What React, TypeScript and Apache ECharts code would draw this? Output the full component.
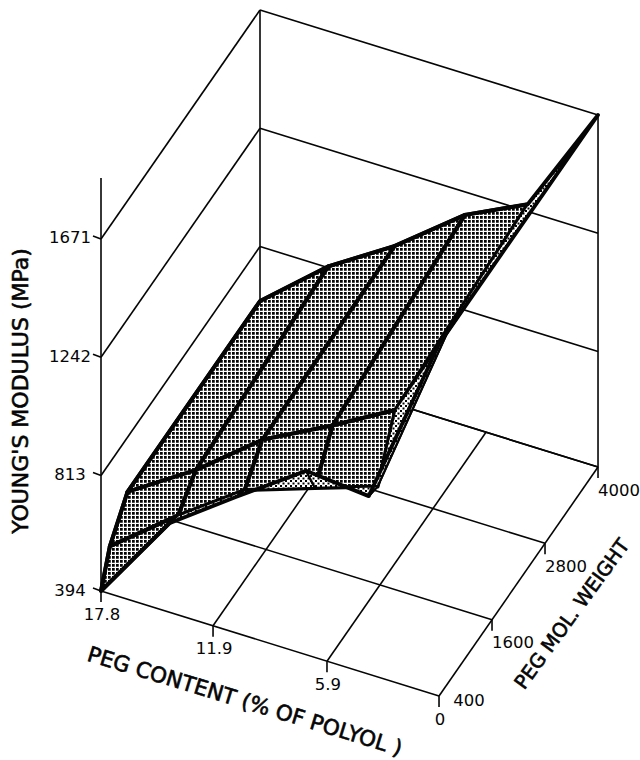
import React, { useEffect, useRef } from "react";
import * as echarts from "echarts";

// PEG content samples (% of polyol) and PEG molecular weights of the surface mesh
const contentSamples = [17.8, 14.2, 10.7, 7.0, 3.7, 0];
const weightSamples = [400, 600, 1000, 4000];
// Young's modulus (MPa): one row per molecular weight, one column per content sample
const modulus400 = [394, 717, 887, 1061, 1040, 1671];
const modulus600 = [510, 699, 866, 953, 1029, 1671];
const modulus1000 = [615, 771, 956, 1087, 1214, 1671];
const modulus4000 = [615, 818, 967, 1159, 1268, 1671];
const modulusRows = [modulus400, modulus600, modulus1000, modulus4000];

// Tick labels
const contentTicks = [17.8, 11.9, 5.9, 0];
const weightTicks = [400, 1600, 2800, 4000];
const modulusTicks = [394, 813, 1242, 1671];

// Faces seen from below (dotted in the figure): [content step, weight step]
const undersideFaces = [
  [1, 0], [2, 0], [3, 0], [4, 0], [4, 1], [4, 2],
];

const INK = "#050505";
const FONT = '"DejaVu Sans", sans-serif';

// Parallel projection of (content, weight, modulus) onto the page
function project(c: number, w: number, e: number): [number, number] {
  const u = 17.8 - c;
  const v = (w - 400) / 3600;
  return [
    101 + u * 18.99 + v * 159,
    591 + u * 5.9 - v * 229 - (e - 394) * 0.27565,
  ];
}

function makeTile(size: number, draw: (g: CanvasRenderingContext2D) => void) {
  const cv = document.createElement("canvas");
  cv.width = size;
  cv.height = size;
  const g = cv.getContext("2d")!;
  g.fillStyle = "#ffffff";
  g.fillRect(0, 0, size, size);
  g.fillStyle = INK;
  draw(g);
  return cv;
}

export default function App() {
  const ref = useRef<HTMLDivElement>(null);

  useEffect(() => {
    document.body.style.margin = "0";
    document.body.style.background = "#ffffff";
    const chart = echarts.init(ref.current!, null, { renderer: "svg" });

    const hatch = {
      image: makeTile(16, (g) => g.fillRect(0, 0, 11, 11)),
      imageWidth: 4,
      imageHeight: 4,
      repeat: "repeat",
    };
    const dots = {
      image: makeTile(10, (g) => {
        g.fillRect(0, 0, 4, 4);
        g.fillRect(5, 5, 4, 4);
      }),
      imageWidth: 5,
      imageHeight: 5,
      repeat: "repeat",
    };

    // Frame segments: back wall, left wall, floor grid, verticals, ticks
    const frame: number[][] = [];
    const seg = (a: [number, number], b: [number, number]) =>
      frame.push([a[0], a[1], b[0], b[1]]);
    const cMax = contentTicks[0];
    const cMin = contentTicks[contentTicks.length - 1];
    const wMin = weightTicks[0];
    const wMax = weightTicks[weightTicks.length - 1];
    const eMin = modulusTicks[0];
    const eMax = modulusTicks[modulusTicks.length - 1];
    modulusTicks.forEach((e) => {
      seg(project(cMax, wMin, e), project(cMax, wMax, e));
      seg(project(cMax, wMax, e), project(cMin, wMax, e));
      const p = project(cMax, wMin, e);
      seg([p[0] - 8, p[1] - 3], p);
    });
    contentTicks.forEach((c) => {
      const p = project(c, wMin, eMin);
      seg(p, project(c, wMax, eMin));
      seg(p, [p[0], p[1] + 11]);
    });
    weightTicks.forEach((w) => {
      const p = project(cMin, w, eMin);
      seg(project(cMax, w, eMin), p);
      if (w > wMin) seg(p, [p[0], p[1] + 11]);
    });
    const lt = project(cMax, wMin, eMax);
    seg([lt[0], lt[1] - 61], project(cMax, wMin, eMin));
    seg(project(cMax, wMax, eMax), project(cMax, wMax, eMin));
    seg(project(cMin, wMax, eMax), project(cMin, wMax, eMin));

    // Mesh faces, painted from the back of the box to the front
    const faces: number[][] = [];
    for (let m = weightSamples.length - 2; m >= 0; m--) {
      for (let k = 0; k < contentSamples.length - 1; k++) faces.push([k, m]);
    }
    const isUnderside = (k: number, m: number) =>
      undersideFaces.some((f) => f[0] === k && f[1] === m);
    const node = (k: number, m: number) =>
      project(contentSamples[k], weightSamples[m], modulusRows[m][k]);

    // Outer edge of the mesh
    const last = contentSamples.length - 1;
    const rim: number[][] = [];
    for (let k = 0; k <= last; k++) rim.push([k, 3]);
    for (let m = 2; m >= 0; m--) rim.push([last, m]);
    for (let k = last - 1; k >= 0; k--) rim.push([k, 0]);
    for (let m = 1; m <= 3; m++) rim.push([0, m]);

    const texts: any[] = [];
    const label = (
      text: string, x: number, y: number, size: number, rotation = 0, heavy = 0,
    ) =>
      texts.push({
        type: "text", x, y, rotation, silent: true, z: 10,
        style: {
          text, fill: INK, align: "center", verticalAlign: "middle",
          font: `${size}px ${FONT}`,
          stroke: heavy ? INK : undefined,
          lineWidth: heavy,
        },
      });
    modulusTicks.forEach((e) => {
      const p = project(cMax, wMin, e);
      label(String(e), p[0] - 31, p[1] - 1, 16.5);
    });
    contentTicks.forEach((c) => {
      const p = project(c, wMin, eMin);
      label(c === 0 ? "0" : c.toFixed(1), p[0] + 1, p[1] + 23, 16.5);
    });
    weightTicks.forEach((w) => {
      const p = project(cMin, w, eMin);
      const dx = w === wMin ? 30 : 21;
      const dy = w === wMin ? 4 : 23;
      label(String(w), p[0] + dx, p[1] + dy, 16.5);
    });
    label("PEG CONTENT (% OF POLYOL )", 245, 701, 21.5, -0.295, 0.6);
    label("PEG MOL. WEIGHT", 572, 614, 19.5, 0.94, 0.6);
    label("YOUNG'S MODULUS (MPa)", 20, 391, 22, Math.PI / 2, 0.6);

    const toPage = (api: any, p: number[]) => api.coord(p);

    chart.setOption({
      animation: false,
      backgroundColor: "#ffffff",
      grid: { left: 0, right: 0, top: 0, bottom: 0 },
      xAxis: { type: "value", min: 0, max: 640, show: false },
      yAxis: { type: "value", min: 0, max: 760, inverse: true, show: false },
      graphic: texts,
      series: [
        {
          name: "frame",
          type: "custom",
          silent: true,
          clip: false,
          data: frame,
          encode: { x: 0, y: 1 },
          renderItem: (_: any, api: any) => {
            const a = toPage(api, [api.value(0), api.value(1)]);
            const b = toPage(api, [api.value(2), api.value(3)]);
            return {
              type: "line",
              shape: { x1: a[0], y1: a[1], x2: b[0], y2: b[1] },
              style: { stroke: INK, lineWidth: 1.6, fill: "none" },
            };
          },
          z: 1,
        },
        {
          name: "surface",
          type: "custom",
          silent: true,
          clip: false,
          data: faces,
          encode: { x: 0, y: 1 },
          renderItem: (_: any, api: any) => {
            const k = api.value(0);
            const m = api.value(1);
            const under = isUnderside(k, m);
            const pts = [node(k, m), node(k + 1, m), node(k + 1, m + 1), node(k, m + 1)];
            return {
              type: "polygon",
              shape: { points: pts.map((p) => toPage(api, p)) },
              style: {
                fill: under ? dots : hatch,
                stroke: INK,
                lineWidth: under ? 2.2 : 4,
                lineJoin: "round",
              },
            };
          },
          z: 2,
        },
        {
          name: "rim",
          type: "custom",
          silent: true,
          clip: false,
          data: [[0, 0]],
          encode: { x: 0, y: 1 },
          renderItem: (_: any, api: any) => ({
            type: "polyline",
            shape: { points: rim.map((r) => toPage(api, node(r[0], r[1]))) },
            style: { stroke: INK, fill: "none", lineWidth: 3.8, lineJoin: "round" },
          }),
          z: 3,
        },
      ],
    });
    return () => chart.dispose();
  }, []);

  return (
    <div
      ref={ref}
      style={{ position: "absolute", left: 0, top: 0, width: 640, height: 760 }}
    />
  );
}
